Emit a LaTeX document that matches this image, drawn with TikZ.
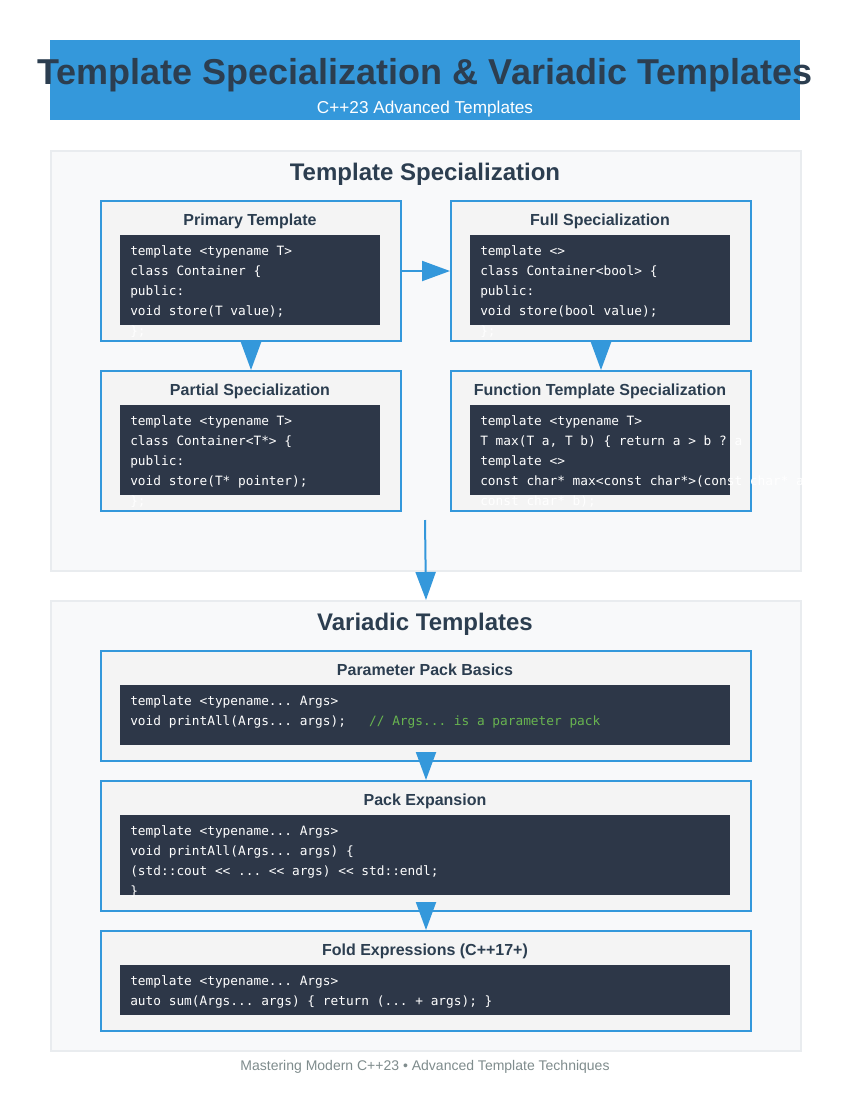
\documentclass[tikz,border=0pt]{standalone}
\usepackage{fontspec}
\setmainfont{Liberation Sans}
\setmonofont{DejaVu Sans Mono}
\usepackage{tikz}
\usetikzlibrary{arrows.meta,positioning}
\definecolor{ink}{HTML}{2C3E50}
\definecolor{accent}{HTML}{3498DB}
\definecolor{secbg}{HTML}{F8F9FA}
\definecolor{secrim}{HTML}{E9ECEF}
\definecolor{cardbg}{HTML}{F4F4F4}
\definecolor{codebg}{HTML}{2D3748}
\definecolor{cmt}{HTML}{68B450}
\definecolor{foot}{HTML}{7F8C8D}
\tikzset{
  bar/.style={fill=accent, draw=none, inner sep=0pt},
  ttl/.style={text=ink, font=\bfseries\fontsize{27}{30}\selectfont, inner sep=0pt},
  sub/.style={text=white, font=\fontsize{12.9}{15}\selectfont, inner sep=0pt},
  section/.style={fill=secbg, draw=secrim, line width=1.5pt, inner sep=0pt},
  sechead/.style={text=ink, font=\bfseries\fontsize{18}{21}\selectfont, inner sep=0pt, anchor=base},
  card/.style={fill=cardbg, draw=accent, line width=1.5pt, inner sep=0pt},
  cardtitle/.style={text=ink, font=\bfseries\fontsize{12}{14}\selectfont, inner sep=0pt, anchor=base},
  codebox/.style={fill=codebg, draw=none, inner sep=0pt, anchor=north west},
  code/.style={text=white, font=\ttfamily\fontsize{9.6}{11}\selectfont, inner sep=0pt, anchor=base west},
  arr/.style={draw=accent, line width=1.5pt, -{Triangle[length=21pt,width=15pt]}},
  foottext/.style={text=foot, font=\fontsize{10.5}{12}\selectfont, inner sep=0pt, anchor=base},
}
\begin{document}
\begin{tikzpicture}[x=0.75pt,y=-0.75pt]
  \fill[white] (0,0) rectangle (850,1100);

  % header
  \node[bar, anchor=north west, minimum width=562.5pt, minimum height=60pt] (bar) at (50,40) {};
  \node[ttl, anchor=base] (ttl) at (425,84) {Template Specialization \& Variadic Templates};
  \node[sub, anchor=base] (sub) at (425,113) {C++23 Advanced Templates};

  % template specialization
  \node[section, anchor=north west, minimum width=562.5pt, minimum height=315pt] (spec) at (50,150) {};
  \node[sechead] (specT) at (425,180) {Template Specialization};

  \node[card, anchor=north west, minimum width=225pt, minimum height=105pt] (prim) at (100,200) {};
  \node[card, anchor=north west, minimum width=225pt, minimum height=105pt] (full) at (450,200) {};
  \node[card, anchor=north west, minimum width=225pt, minimum height=105pt] (part) at (100,370) {};
  \node[card, anchor=north west, minimum width=225pt, minimum height=105pt] (func) at (450,370) {};

  \node[cardtitle] (primT) at (250,225) {Primary Template};
  \node[cardtitle] (fullT) at (600,225) {Full Specialization};
  \node[cardtitle] (partT) at (250,395) {Partial Specialization};
  \node[cardtitle] (funcT) at (600,395) {Function Template Specialization};

  \node[codebox, minimum width=195pt, minimum height=67.5pt] (primC) at (120,235) {};
  \node[codebox, minimum width=195pt, minimum height=67.5pt] (fullC) at (470,235) {};
  \node[codebox, minimum width=195pt, minimum height=67.5pt] (partC) at (120,405) {};
  \node[codebox, minimum width=195pt, minimum height=67.5pt] (funcC) at (470,405) {};

  \foreach \ln [count=\i from 0] in {{template <typename T>}, {class Container \{}, {public:}, {void store(T value);}, {\};}}
    \node[code] (primL\i) at (130,255+20*\i) {\ln};
  \foreach \ln [count=\i from 0] in {{template <>}, {class Container<bool> \{}, {public:}, {void store(bool value);}, {\};}}
    \node[code] (fullL\i) at (480,255+20*\i) {\ln};
  \foreach \ln [count=\i from 0] in {{template <typename T>}, {class Container<T*> \{}, {public:}, {void store(T* pointer);}, {\};}}
    \node[code] (partL\i) at (130,425+20*\i) {\ln};
  \foreach \ln [count=\i from 0] in {{template <typename T>}, {T max(T a, T b) \{ return a > b ? a}, {template <>}, {const char* max<const char*>(const char* a,}, {const char* b);}}
    \node[code] (funcL\i) at (480,425+20*\i) {\ln};

  \draw[arr] (prim.east) -- (full.west);
  \draw[arr] (prim.south) -- (part.north);
  \draw[arr] (full.south) -- (func.north);

  % variadic templates
  \node[section, anchor=north west, minimum width=562.5pt, minimum height=337.5pt] (vari) at (50,600) {};
  \node[sechead] (variT) at (425,630) {Variadic Templates};

  \node[card, anchor=north west, minimum width=487.5pt, minimum height=82.5pt] (pack) at (100,650) {};
  \node[card, anchor=north west, minimum width=487.5pt, minimum height=97.5pt] (expn) at (100,780) {};
  \node[card, anchor=north west, minimum width=487.5pt, minimum height=75pt] (fold) at (100,930) {};

  \node[cardtitle] (packT) at (425,675) {Parameter Pack Basics};
  \node[cardtitle] (expnT) at (425,805) {Pack Expansion};
  \node[cardtitle] (foldT) at (425,955) {Fold Expressions (C++17+)};

  \node[codebox, minimum width=457.5pt, minimum height=45pt] (packC) at (120,685) {};
  \node[codebox, minimum width=457.5pt, minimum height=60pt] (expnC) at (120,815) {};
  \node[codebox, minimum width=457.5pt, minimum height=37.5pt] (foldC) at (120,965) {};

  \node[code] (packL0) at (130,705) {template <typename... Args>};
  \node[code] (packL1) at (130,725) {void printAll(Args... args);\ \ \ {\color{cmt}// Args... is a parameter pack}};
  \node[code] (expnL0) at (130,835) {template <typename... Args>};
  \node[code] (expnL1) at (130,855) {void printAll(Args... args) \{};
  \node[code] (expnL2) at (130,875) {(std::cout << ... << args) << std::endl;};
  \node[code] (expnL3) at (130,895) {\}};
  \node[code] (foldL0) at (130,985) {template <typename... Args>};
  \node[code] (foldL1) at (130,1005) {auto sum(Args... args) \{ return (... + args); \}};

  \coordinate (specout) at (425,520);
  \draw[arr] (specout) -- (vari.north);
  \draw[arr] (pack.south) -- (expn.north);
  \draw[arr] (expn.south) -- (fold.north);

  % footer
  \node[foottext] (ft) at (425,1070) {Mastering Modern C++23 • Advanced Template Techniques};
\end{tikzpicture}
\end{document}
